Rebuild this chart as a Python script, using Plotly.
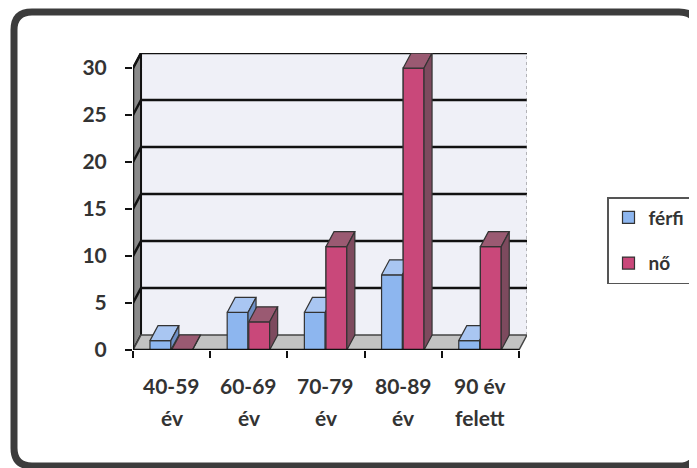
import plotly.graph_objects as go

categories_line1 = ["40-59", "60-69", "70-79", "80-89", "90 év"]
categories_line2 = ["év", "év", "év", "év", "felett"]
series_names = ["férfi", "nő"]
ferfi = [1, 4, 4, 8, 1]
no = [0, 3, 11, 30, 11]
y_ticks = [0, 5, 10, 15, 20, 25, 30]

# page body has an 8px margin, so the figure is laid out 8px smaller
PAGE_OFF = 8
W, H = 697 - PAGE_OFF, 468 - PAGE_OFF
PL, PR, PT, PB = 133, 527, 53, 350      # plot area in window pixels
ML, MT = PL - PAGE_OFF, PT - PAGE_OFF
MR, MB = W - (PR - PAGE_OFF), H - (PB - PAGE_OFF)
pw, ph = PR - PL, PB - PT

dx = 0.104
x_lo, x_hi = -0.5, 4.5 + dx
y_hi = 31.6
dy = 15 / ph * y_hi
bw = 0.27
offsets = [-0.28, 0.0]

front_cols = ["#8DB6EF", "#C9487A"]
top_cols = ["#A9C6F2", "#9A5A72"]
side_cols = ["#6E8FC4", "#7D4A5E"]
edge = "#333333"
FONT = "Lato"
TXT = "#333333"

fig = go.Figure()
xs = list(range(len(categories_line1)))
vals = [ferfi, no]

for s in range(2):
    fig.add_trace(go.Bar(
        x=[i + offsets[s] for i in xs], y=vals[s], width=bw, offset=0,
        name=series_names[s], marker=dict(color=front_cols[s], line=dict(color=edge, width=1.2)),
        legendgroup=series_names[s], showlegend=True, hoverinfo="skip"))

def poly(px, py, color, grp):
    fig.add_trace(go.Scatter(x=px + [px[0]], y=py + [py[0]], mode="lines", fill="toself",
                             fillcolor=color, line=dict(color=edge, width=1.2),
                             showlegend=False, legendgroup=grp, hoverinfo="skip"))

for i in xs:
    for s in range(2):
        v = vals[s][i]
        x0 = i + offsets[s]
        x1 = x0 + bw
        if s == 1:
            poly([x0, x1, x1, x0], [0, 0, v, v], front_cols[s], series_names[s])
        poly([x0, x1, x1 + dx, x0 + dx], [v, v, v + dy, v + dy], top_cols[s], series_names[s])
        poly([x1, x1, x1 + dx, x1 + dx], [0, v, v + dy, dy], side_cols[s], series_names[s])

shapes = []
shapes.append(dict(type="rect", xref="x", yref="y", x0=x_lo + dx, x1=x_hi, y0=dy, y1=y_ticks[-1] + dy,
                   fillcolor="#EFF0F7", line=dict(width=0), layer="below"))
shapes.append(dict(type="path", xref="x", yref="y", layer="below",
                   path=f"M {x_lo},0 L {x_lo + dx},{dy} L {x_lo + dx},{y_ticks[-1] + dy} L {x_lo},{y_ticks[-1]} Z",
                   fillcolor="#8a8a8a", line=dict(color="#111", width=2)))
shapes.append(dict(type="path", xref="x", yref="y", layer="below",
                   path=f"M {x_lo},0 L 4.5,0 L {x_hi},{dy} L {x_lo + dx},{dy} Z",
                   fillcolor="#C2C2C2", line=dict(color="#444", width=1.5)))
for t in y_ticks[1:]:
    shapes.append(dict(type="path", xref="x", yref="y", layer="below",
                       path=f"M {x_lo},{t} L {x_lo + dx},{t + dy} L {x_hi},{t + dy}",
                       line=dict(color="#111", width=2.5)))
shapes.append(dict(type="line", xref="x", yref="y", layer="below", x0=x_hi, x1=x_hi, y0=dy, y1=y_ticks[-1] + dy,
                   line=dict(color="#777", width=1, dash="dot")))
shapes.append(dict(type="line", xref="x", yref="y", x0=x_lo, x1=x_lo, y0=0, y1=y_ticks[-1],
                   line=dict(color="#111", width=2.5)))
shapes.append(dict(type="line", xref="x", yref="y", x0=x_lo, x1=4.5, y0=0, y1=0,
                   line=dict(color="#111", width=2.5)))

def fx(p):
    return (p - PL) / pw
def fy(p):
    return (PB - p) / ph

# outer rounded frame (window pixel coordinates)
L_, T_, R_, B_, r = 14, 12, 697, 466, 18
frame = (f"M {fx(L_ + r)},{fy(T_)} L {fx(R_ - r)},{fy(T_)} Q {fx(R_)},{fy(T_)} {fx(R_)},{fy(T_ + r)} "
         f"L {fx(R_)},{fy(B_ - r)} Q {fx(R_)},{fy(B_)} {fx(R_ - r)},{fy(B_)} "
         f"L {fx(L_ + r)},{fy(B_)} Q {fx(L_)},{fy(B_)} {fx(L_)},{fy(B_ - r)} "
         f"L {fx(L_)},{fy(T_ + r)} Q {fx(L_)},{fy(T_)} {fx(L_ + r)},{fy(T_)} Z")
shapes.append(dict(type="path", xref="paper", yref="paper", path=frame,
                   line=dict(color="#3c3c3c", width=7)))

annotations = []
for i in xs:
    annotations.append(dict(x=i, y=fy(385), xref="x", yref="paper", text=categories_line1[i],
                            showarrow=False, yanchor="middle",
                            font=dict(family=FONT, size=21, color=TXT, weight="bold")))
    annotations.append(dict(x=i, y=fy(417), xref="x", yref="paper", text=categories_line2[i],
                            showarrow=False, yanchor="middle",
                            font=dict(family=FONT, size=21, color=TXT, weight="bold")))

fig.update_layout(
    width=W, height=H,
    margin=dict(l=ML, r=MR, t=MT, b=MB, autoexpand=False),
    paper_bgcolor="white", plot_bgcolor="white",
    barmode="overlay",
    shapes=shapes, annotations=annotations,
    showlegend=True,
    legend=dict(x=fx(607), y=fy(197), xanchor="left", yanchor="top",
                bordercolor="#555", borderwidth=1.5, bgcolor="white",
                font=dict(family=FONT, size=19, color=TXT, weight="bold"),
                traceorder="grouped", tracegroupgap=18, itemwidth=30),
    xaxis=dict(range=[x_lo, x_hi], tickvals=[-0.5, 0.5, 1.5, 2.5, 3.5, 4.5], showticklabels=False,
               ticks="outside", ticklen=7, tickcolor="#111", tickwidth=2, showgrid=False, zeroline=False,
               showline=False, fixedrange=True),
    yaxis=dict(range=[0, y_hi], tickvals=y_ticks, ticks="outside", ticklen=7, tickcolor="#111", tickwidth=2,
               showgrid=False, zeroline=False, showline=False, ticklabelstandoff=14,
               tickfont=dict(family=FONT, size=21, color=TXT, weight="bold")),
)

fig.write_html("out.html")
